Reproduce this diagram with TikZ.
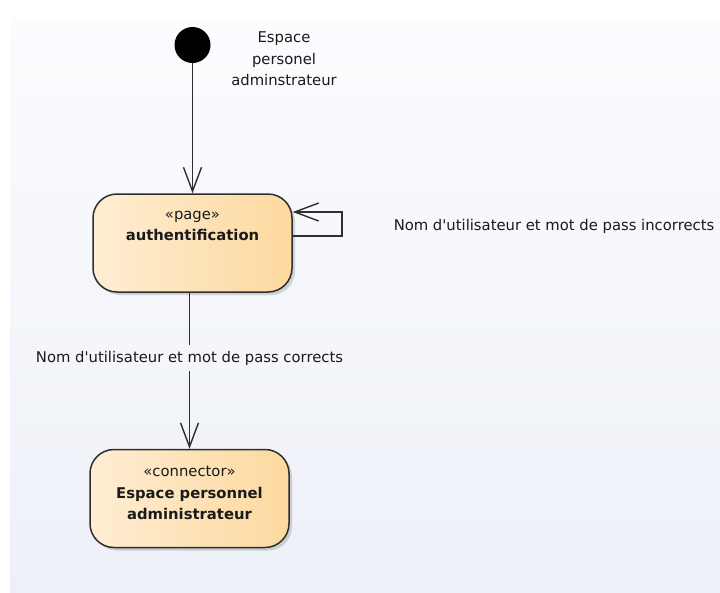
\documentclass[tikz,border=0pt]{standalone}
\usepackage{fontspec}
\setmainfont{DejaVu Sans}[Ligatures=TeXOff]
\usetikzlibrary{arrows.meta,shadows}

\definecolor{panelTop}{HTML}{FBFCFE}
\definecolor{panelBot}{HTML}{EDF0F7}
\definecolor{panelMid}{HTML}{F5F6FB}
\definecolor{stateL}{HTML}{FFEDD3}
\definecolor{stateR}{HTML}{FCD99F}
\definecolor{lineGrey}{HTML}{2E2E2E}
\definecolor{txt}{HTML}{1A1A1A}

\begin{document}
\begin{tikzpicture}[x=1pt,y=-1pt,
  every node/.style={font=\fontsize{14.8pt}{21.5pt}\selectfont, text=txt},
  state/.style={draw=lineGrey, line width=1.5pt, rounded corners=24pt,
    left color=stateL, right color=stateR,
    minimum width=199pt, minimum height=98pt, inner sep=0pt,
    drop shadow={shadow xshift=3pt, shadow yshift=-3pt, fill=black, opacity=0.15}},
  startdot/.style={circle, fill=black, minimum size=36pt, inner sep=0pt},
  lbl/.style={inner sep=0pt, align=center},
  flow/.style={draw=lineGrey, line width=1.4pt,
    -{Straight Barb[length=24pt,width=18pt]}}
]
\useasboundingbox (0,0) rectangle (720,592);

% diagram background panel
\fill[top color=panelTop, bottom color=panelBot] (10,18) rectangle (720,592);

% initial state
\node[startdot] (init) at (192.5,45) {};
\node[lbl] (initlbl) at (284,59) {Espace\\personel\\adminstrateur};

% states
\node[state] (auth) at (192.5,243) {};
\node[lbl] (authtxt) at (192.5,226) {«page»\\\textbf{authentification}};

\node[state] (conn) at (189.5,498.5) {};
\node[lbl] (conntxt) at (189.5,493) {«connector»\\\textbf{Espace personnel}\\\textbf{administrateur}};

% self transition on authentification
\coordinate (loopTop) at (342,212);
\coordinate (loopBot) at (342,236);
\draw[flow] (auth.east |- loopBot) -- (loopBot) -- (loopTop) -- (auth.east |- loopTop);
\node[lbl] (kolbl) at (554,226) {Nom d'utilisateur et mot de pass incorrects};

% transitions
\draw[flow] (init) -- (auth.north -| init);
\draw[flow] (auth.south -| conn.north) -- (conn.north);
\node[lbl, fill=panelMid, inner ysep=6pt] (oklbl) at (189.5,358) {Nom d'utilisateur et mot de pass corrects};
\end{tikzpicture}
\end{document}
